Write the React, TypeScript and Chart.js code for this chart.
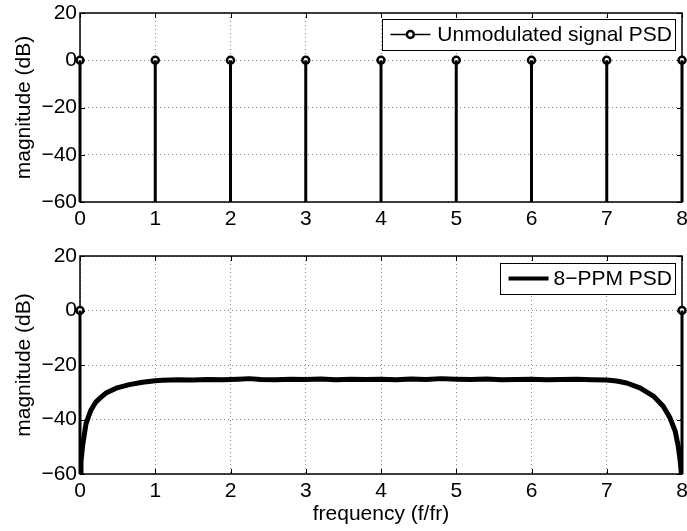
import React, { useEffect, useRef } from "react";
import { Chart, registerables } from "chart.js";

Chart.register(...registerables);

// ---------- data ----------
const X_TICKS = [0, 1, 2, 3, 4, 5, 6, 7, 8];
const Y_TICKS = [-60, -40, -20, 0, 20];
const X_MIN = 0;
const X_MAX = 8;
const Y_MIN = -60;
const Y_MAX = 20;
const STEM_BASE = -60;

const TOP_STEM_X = [0, 1, 2, 3, 4, 5, 6, 7, 8];
const TOP_STEM_DB = [0, 0, 0, 0, 0, 0, 0, 0, 0];

const BOTTOM_STEM_X = [0, 8];
const BOTTOM_STEM_DB = [0, 0];

const PSD_FREQ = [
  0.004, 0.013, 0.035, 0.08, 0.146, 0.21, 0.28, 0.345, 0.48, 0.655, 0.83, 1.0,
  1.1, 1.3, 1.5, 1.7, 1.9, 2.1, 2.25, 2.4, 2.6, 2.8, 3.0, 3.2, 3.4, 3.6, 3.8,
  4.0, 4.2, 4.4, 4.6, 4.8, 5.0, 5.2, 5.4, 5.6, 5.8, 6.0, 6.2, 6.4, 6.6, 6.8,
  7.0, 7.13, 7.265, 7.44, 7.62, 7.75, 7.84, 7.91, 7.95, 7.975, 7.992,
];
const PSD_DB = [
  -60, -55.5, -49.5, -41.5, -36.5, -33.6, -31.8, -30.3, -28.5, -27.2, -26.3, -25.8,
  -25.6, -25.4, -25.5, -25.3, -25.4, -25.2, -25.0, -25.3, -25.4, -25.2, -25.3, -25.1,
  -25.4, -25.2, -25.3, -25.2, -25.4, -25.1, -25.3, -25.0, -25.2, -25.3, -25.1, -25.4,
  -25.3, -25.2, -25.4, -25.3, -25.2, -25.4,
  -25.5, -25.9, -26.6, -28.4, -31.4, -35.1, -39.4, -44.3, -49.8, -55, -60,
];

const TOP_LEGEND = "Unmodulated signal PSD";
const BOTTOM_LEGEND = "8\u2212PPM PSD";
const X_TITLE = "frequency (f/fr)";
const Y_TITLE = "magnitude (dB)";

// ---------- styling ----------
const FONT_FAMILY = "'Liberation Sans', Arial, Helvetica, sans-serif";
const FONT_SIZE = 21;
const W = 687;
const TOP_H = 240;
const BOT_H = 291;

function stemSegments(xs: number[], ys: number[]) {
  const out: any[] = [];
  xs.forEach((x, i) => {
    out.push({ x, y: STEM_BASE });
    out.push({ x, y: ys[i] });
    out.push({ x, y: null });
  });
  return out;
}

function points(xs: number[], ys: number[]) {
  return xs.map((x, i) => ({ x, y: ys[i] }));
}

const axesPlugin = {
  id: "matlabAxes",
  beforeDatasetsDraw(chart: any) {
    const { ctx, chartArea: a, scales } = chart;
    ctx.save();
    ctx.strokeStyle = "#000";
    ctx.lineWidth = 1;
    const tl = 5;
    ctx.beginPath();
    X_TICKS.forEach((v) => {
      const px = Math.round(scales.x.getPixelForValue(v)) + 0.5;
      ctx.moveTo(px, a.bottom);
      ctx.lineTo(px, a.bottom - tl);
      ctx.moveTo(px, a.top);
      ctx.lineTo(px, a.top + tl);
    });
    Y_TICKS.forEach((v) => {
      const py = Math.round(scales.y.getPixelForValue(v)) + 0.5;
      ctx.moveTo(a.left, py);
      ctx.lineTo(a.left + tl, py);
      ctx.moveTo(a.right, py);
      ctx.lineTo(a.right - tl, py);
    });
    ctx.stroke();
    ctx.lineWidth = 1.5;
    ctx.strokeRect(a.left, a.top, a.right - a.left, a.bottom - a.top);
    ctx.restore();
  },
};

function legendPlugin(text: string, lineWidth: number, marker: boolean, offTop: number, padL: number, gap: number) {
  return {
    id: "matlabLegend",
    afterDraw(chart: any) {
      const { ctx, chartArea: a } = chart;
      ctx.save();
      ctx.font = `${FONT_SIZE}px ${FONT_FAMILY}`;
      const tw = ctx.measureText(text).width;
      const lineLen = 40;
      const padR = 3;
      const h = 31;
      const w = padL + lineLen + gap + tw + padR;
      const right = a.right - 7;
      const top = a.top + offTop;
      const left = right - w;
      ctx.fillStyle = "#fff";
      ctx.fillRect(left, top, w, h);
      ctx.strokeStyle = "#000";
      ctx.lineWidth = 1;
      ctx.strokeRect(Math.round(left) + 0.5, Math.round(top) + 0.5, Math.round(w), h);
      const cy = top + h / 2;
      ctx.lineWidth = lineWidth;
      ctx.beginPath();
      ctx.moveTo(left + padL, cy);
      ctx.lineTo(left + padL + lineLen, cy);
      ctx.stroke();
      if (marker) {
        ctx.lineWidth = 2.5;
        ctx.fillStyle = "#fff";
        ctx.beginPath();
        ctx.arc(left + padL + lineLen / 2, cy, 3.5, 0, Math.PI * 2);
        ctx.fill();
        ctx.stroke();
      }
      ctx.fillStyle = "#000";
      ctx.textBaseline = "middle";
      ctx.textAlign = "left";
      ctx.fillText(text, left + padL + lineLen + gap, cy + 1);
      ctx.restore();
    },
  };
}

function scales(xHeight: number, withXTitle: boolean) {
  const font = { family: FONT_FAMILY, size: FONT_SIZE };
  return {
    x: {
      type: "linear",
      min: X_MIN,
      max: X_MAX,
      afterBuildTicks: (s: any) => {
        s.ticks = X_TICKS.map((v) => ({ value: v }));
      },
      afterFit: (s: any) => {
        s.height = xHeight;
        s.paddingLeft = 0;
        s.paddingRight = 0;
      },
      ticks: {
        font,
        color: "#000",
        padding: 5,
        maxRotation: 0,
        autoSkip: false,
        callback: (v: any) => String(v),
      },
      grid: { color: "#888", lineWidth: 1, drawTicks: false },
      border: { display: false, dash: [1, 3] },
      title: {
        display: withXTitle,
        text: X_TITLE,
        font,
        color: "#000",
        padding: { top: 0, bottom: 4 },
      },
    },
    y: {
      type: "linear",
      min: Y_MIN,
      max: Y_MAX,
      afterBuildTicks: (s: any) => {
        s.ticks = Y_TICKS.map((v) => ({ value: v }));
      },
      afterFit: (s: any) => {
        s.width = 80;
        s.paddingTop = 0;
        s.paddingBottom = 0;
      },
      ticks: {
        font,
        color: "#000",
        padding: 3,
        callback: (v: any) => String(v).replace("-", "\u2212"),
      },
      grid: { color: "#888", lineWidth: 1, drawTicks: false },
      border: { display: false, dash: [1, 3] },
      title: {
        display: true,
        text: Y_TITLE,
        font,
        color: "#000",
        padding: { top: 12, bottom: 0 },
      },
    },
  };
}

function stemDatasets(xs: number[], ys: number[]) {
  return [
    {
      type: "line",
      data: stemSegments(xs, ys),
      borderColor: "#000",
      borderWidth: 3,
      pointRadius: 0,
      spanGaps: false,
      clip: false,
    },
    {
      type: "line",
      data: points(xs, ys),
      showLine: false,
      pointRadius: 3.5,
      pointBorderWidth: 2.5,
      pointBorderColor: "#000",
      pointBackgroundColor: "#fff",
      clip: false,
    },
  ];
}

function baseOptions(padTop: number, xHeight: number, withXTitle: boolean) {
  return {
    responsive: false,
    animation: false,
    devicePixelRatio: 1,
    events: [],
    layout: { autoPadding: false, padding: { left: 0, right: 5, top: padTop, bottom: 0 } },
    plugins: { legend: { display: false }, tooltip: { enabled: false } },
    scales: scales(xHeight, withXTitle),
  };
}

export default function App() {
  const topRef = useRef<HTMLCanvasElement>(null);
  const botRef = useRef<HTMLCanvasElement>(null);

  useEffect(() => {
    const top = new Chart(topRef.current as HTMLCanvasElement, {
      type: "line",
      data: { datasets: stemDatasets(TOP_STEM_X, TOP_STEM_DB) as any },
      options: baseOptions(13, TOP_H - 202, false) as any,
      plugins: [axesPlugin, legendPlugin(TOP_LEGEND, 1.5, true, 6, 8, 7)],
    });
    const bottom = new Chart(botRef.current as HTMLCanvasElement, {
      type: "line",
      data: {
        datasets: [
          {
            type: "line",
            data: points(PSD_FREQ, PSD_DB),
            borderColor: "#000",
            borderWidth: 5,
            pointRadius: 0,
            tension: 0,
            borderJoinStyle: "round",
          },
          ...stemDatasets(BOTTOM_STEM_X, BOTTOM_STEM_DB),
        ] as any,
      },
      options: baseOptions(16, BOT_H - 234, true) as any,
      plugins: [axesPlugin, legendPlugin(BOTTOM_LEGEND, 4, false, 7, 9, 5)],
    });
    return () => {
      top.destroy();
      bottom.destroy();
    };
  }, []);

  return (
    <div style={{ position: "absolute", left: 0, top: 0, width: W, height: TOP_H + BOT_H, background: "#fff" }}>
      <canvas
        ref={topRef}
        width={W}
        height={TOP_H}
        style={{ position: "absolute", left: 0, top: 0, width: W, height: TOP_H }}
      />
      <canvas
        ref={botRef}
        width={W}
        height={BOT_H}
        style={{ position: "absolute", left: 0, top: TOP_H, width: W, height: BOT_H }}
      />
    </div>
  );
}
